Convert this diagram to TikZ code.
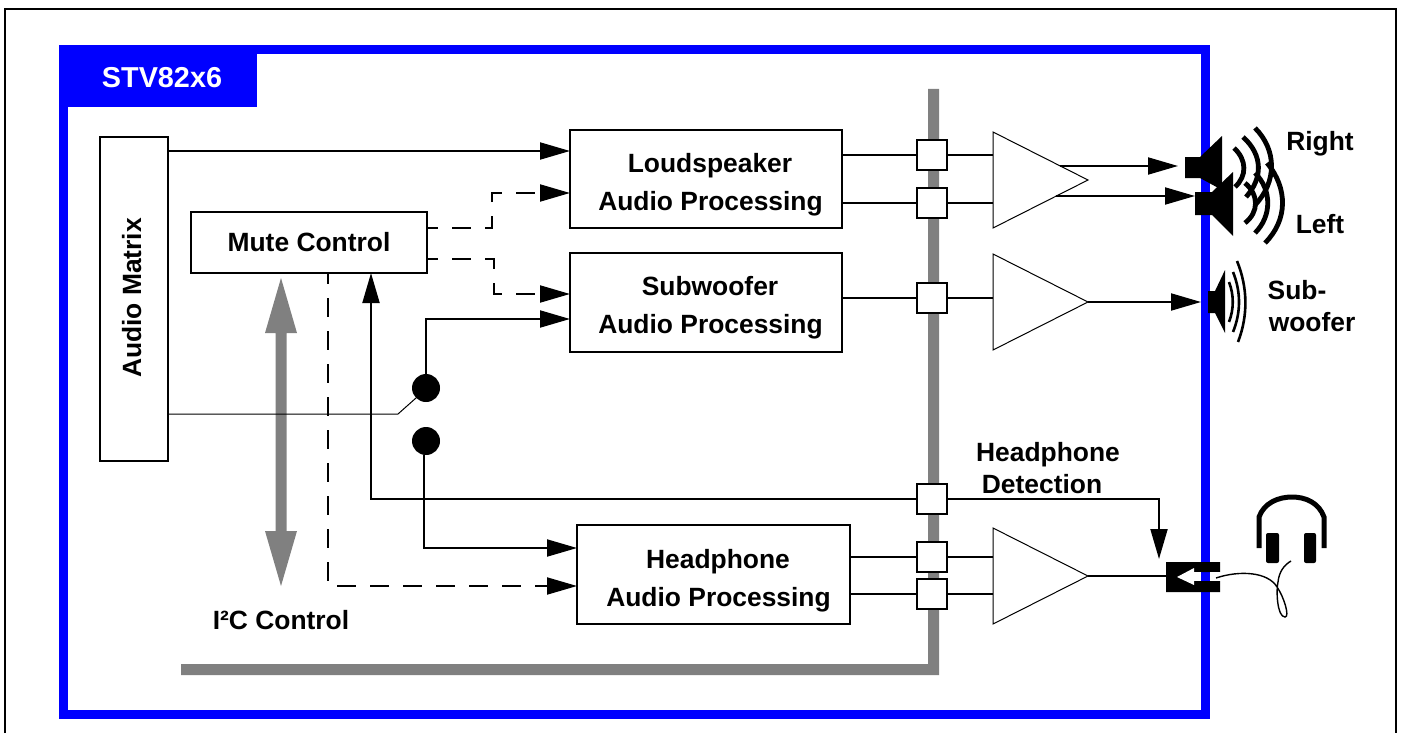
\documentclass[tikz,border=0pt]{standalone}
\usepackage{fontspec}
\setmainfont{Liberation Sans}
\usetikzlibrary{arrows.meta,calc}
\definecolor{frameblue}{HTML}{0000FF}
\definecolor{busgrey}{HTML}{808080}
\tikzset{
  txt/.style={font=\fontsize{13.2pt}{15pt}\selectfont\bfseries,inner sep=0pt,outer sep=0pt,text=black,anchor=base},
  blockbox/.style={draw=black,line width=1pt,fill=white,inner sep=0pt,outer sep=0pt},
  portbox/.style={blockbox,minimum width=15pt,minimum height=15pt},
  amp/.style={draw=black,line width=0.5pt,fill=white,line join=miter},
  wire/.style={draw=black,line width=1pt},
  arrowwire/.style={wire,-{Triangle[length=15pt,width=8.5pt]}},
  dashwire/.style={arrowwire,dash pattern=on 9.5pt off 7pt,dash phase=4pt},
  thinwire/.style={draw=black,line width=0.5pt},
  wave/.style={draw=black,line width=2.4pt},
  subwave/.style={draw=black,line width=1.3pt},
  bus/.style={fill=busgrey,draw=none},
}
\begin{document}
\begin{tikzpicture}[x=0.5pt,y=-0.5pt]
\useasboundingbox (0,0) rectangle (1401,733);
% outer frame (open at the bottom)
\draw[black,line width=1pt] (5,733) -- (5,9) -- (1396,9) -- (1396,733);
% blue frame
\draw[frameblue,line width=4.5pt] (63.5,49.5) rectangle (1205.5,714.5);
\fill[frameblue] (59,45) rectangle (257,107);
\node[txt,text=white,font=\fontsize{14.4pt}{16pt}\selectfont\bfseries] (title) at (162,88) {STV82x6};
% grey bus
\fill[bus] (928,89) -- (939,89) -- (939,675) -- (181,675) -- (181,664) -- (928,664) -- cycle;
% I2C double arrow
\fill[bus] (281,278) -- (297,333) -- (286.5,333) -- (286.5,531) -- (297,531) -- (281,586) -- (265,531) -- (275.5,531) -- (275.5,333) -- (265,333) -- cycle;
% blocks
\node[blockbox,minimum width=34pt,minimum height=162pt] (am) at (134,299) {};
\node[txt,rotate=90] (amt) at (141,298) {Audio Matrix};
\node[blockbox,minimum width=118pt,minimum height=30.5pt] (mute) at (309,242.5) {};
\node[txt] (mutet) at (309,251) {Mute Control};
\node[blockbox,minimum width=136pt,minimum height=49pt] (lp) at (706,179) {};
\node[txt] (lpa) at (710,172) {Loudspeaker};
\node[txt] (lpb) at (710.5,210) {Audio Processing};
\node[blockbox,minimum width=136pt,minimum height=49.5pt] (sw) at (706,302.5) {};
\node[txt] (swa) at (710,295) {Subwoofer};
\node[txt] (swb) at (710.5,333) {Audio Processing};
\node[blockbox,minimum width=136.5pt,minimum height=49.5pt] (hp) at (713.5,574.5) {};
\node[txt] (hpa) at (718,568) {Headphone};
\node[txt] (hpb) at (718.5,606) {Audio Processing};
% amplifiers
\coordinate (amp1) at (993,180); \coordinate (amp1t) at (1088,180);
\coordinate (amp2) at (993,302); \coordinate (amp2t) at (1088,302);
\coordinate (amp3) at (993,576); \coordinate (amp3t) at (1088,576);
\draw[amp] (993,132) -- (amp1t) -- (993,228) -- cycle;
\draw[amp] (993,254) -- (amp2t) -- (993,350) -- cycle;
\draw[amp] (993,528) -- (amp3t) -- (993,624) -- cycle;
% port boxes
\node[portbox] (p1) at (932,154.5) {};
\node[portbox] (p2) at (932,202.5) {};
\node[portbox] (p3) at (932,298) {};
\node[portbox] (p4) at (932,498.5) {};
\node[portbox] (p5) at (932,556.5) {};
\node[portbox] (p6) at (932,594) {};
% switch contacts
\node[circle,fill=black,minimum size=14pt,inner sep=0pt,outer sep=0pt] (d1) at (426,388) {};
\node[circle,fill=black,minimum size=14pt,inner sep=0pt,outer sep=0pt] (d2) at (426,441) {};
% speakers / jack anchors
\coordinate (spr) at (1178,166);
\coordinate (spl) at (1195,196);
\coordinate (sps) at (1201,302);
\coordinate (jack) at (1166,576);
\coordinate (jackt) at (1159,559);
\coordinate (o1) at (1060,166);
\coordinate (o2) at (1056,196);
% connectors: port boxes
\draw[wire] (lp.east |- p1) -- (p1.west);
\draw[wire] (lp.east |- p2) -- (p2.west);
\draw[wire] (sw.east |- p3) -- (p3.west);
\draw[wire] (hp.east |- p5) -- (p5.west);
\draw[wire] (hp.east |- p6) -- (p6.west);
\draw[wire] (p1.east) -- (p1.east -| amp1);
\draw[wire] (p2.east) -- (p2.east -| amp1);
\draw[wire] (p3.east) -- (p3.east -| amp2);
\draw[wire] (p5.east) -- (p5.east -| amp3);
\draw[wire] (p6.east) -- (p6.east -| amp3);
% connectors: outputs
\draw[arrowwire] (o1) -- (spr);
\draw[arrowwire] (o2) -- (spl);
\draw[arrowwire] (amp2t) -- (sps);
\draw[wire] (amp3t) -- (jack);
\draw[arrowwire] (p4.east) -- (p4.east -| jackt) -- (jackt);
% connectors: inputs
\draw[arrowwire] (am.east |- 0,151) -- (lp.west |- 0,151);
\draw[arrowwire] (d1.north) -- (d1.north |- 0,319) -- (sw.west |- 0,319);
\draw[arrowwire] (d2.south -| 424,0) -- (424,548) -- (hp.west |- 0,548);
\draw[thinwire] (am.east |- 0,414) -- (398,414) -- (d1.225);
\draw[arrowwire] (p4.west) -- (371,498.5) -- (mute.south -| 371,0);
% dashed control connectors
\draw[dashwire] (mute.east |- 0,228) -- (492,228) -- (492,193) -- (lp.west |- 0,193);
\draw[dashwire] (mute.east |- 0,259) -- (494,259) -- (494,294) -- (sw.west |- 0,294);
\draw[dashwire] (mute.south -| 328,0) -- (328,586) -- (hp.west |- 0,586);
% right speaker
\fill[black] (1185,157) -- (1200,157) -- (1222,136) -- (1222,190) -- (1200,178) -- (1185,178) -- cycle;
\draw[wave] (1234,148) .. controls (1247,160) and (1247,176) .. (1235,187);
\draw[wave] (1243,137) .. controls (1263,155) and (1263,178) .. (1246,197);
\draw[wave] (1255,128) .. controls (1277,150) and (1277,182) .. (1255,205);
% left speaker
\fill[black] (1195,192) -- (1212,192) -- (1233,172) -- (1233,236) -- (1212,215) -- (1195,215) -- cycle;
\draw[wave] (1245,183) .. controls (1259,195) and (1259,212) .. (1245,223);
\draw[wave] (1255,173) .. controls (1272,190) and (1272,216) .. (1255,233);
\draw[wave] (1267,163) .. controls (1288,188) and (1288,220) .. (1265,243);
% subwoofer
\fill[black] (1208,291) -- (1215,291) -- (1225,270) -- (1225,333) -- (1215,313) -- (1208,313) -- cycle;
\draw[subwave] (1229,282) .. controls (1234,295) and (1234,309) .. (1229,322);
\draw[subwave] (1233,272) .. controls (1241,292) and (1241,312) .. (1233,332);
\draw[subwave] (1237,261) .. controls (1248,288) and (1248,316) .. (1238,342);
% jack
\fill[black] (1166,562) -- (1220,562) -- (1220,572) -- (1194,572) -- (1194,581) -- (1220,581) -- (1220,592) -- (1166,592) -- cycle;
\fill[white] (1177,577) -- (1194,568) -- (1194,585) -- cycle;
\fill[white] (1194,572) -- (1201,572) -- (1201,581) -- (1194,581) -- cycle;
\fill[white] (1210,572) -- (1220,572) -- (1220,581) -- (1210,581) -- cycle;
% headphones
\draw[black,line width=2.5pt] (1259,548) -- (1259,517) .. controls (1264,503) and (1278,497) .. (1292,497) .. controls (1306,497) and (1319,503) .. (1324,517) -- (1324,548);
\fill[black,rounded corners=1pt] (1266,533) rectangle (1279,563);
\fill[black,rounded corners=1pt] (1304,533) rectangle (1316,563);
\draw[black,line width=0.7pt] (1216,578) .. controls (1240,570) and (1268,572) .. (1277,587) .. controls (1284,597) and (1290,617) .. (1285,617) .. controls (1277,617) and (1276,590) .. (1278,582) .. controls (1279,572) and (1284,565) .. (1291,561);
% texts
\node[txt] (i2c) at (281,629) {I²C Control};
\node[txt] (det1) at (1048,461) {Headphone};
\node[txt] (det2) at (1042,493) {Detection};
\node[txt] (right) at (1320,150) {Right};
\node[txt] (left) at (1320,233) {Left};
\node[txt] (sub1) at (1297,299) {Sub-};
\node[txt] (sub2) at (1312,331) {woofer};
\end{tikzpicture}
\end{document}
